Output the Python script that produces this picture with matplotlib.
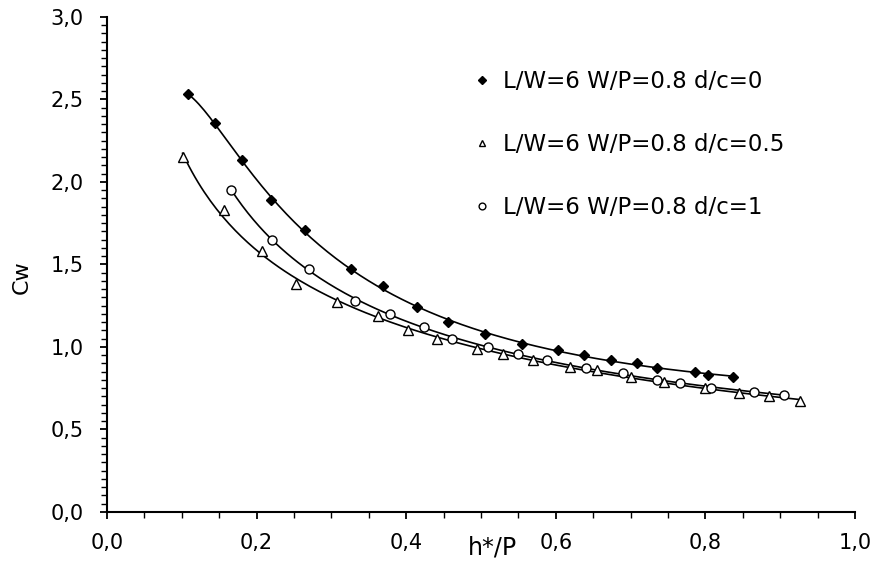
import numpy as np
import matplotlib.pyplot as plt
from matplotlib.ticker import MultipleLocator, FuncFormatter

plt.rcParams['font.family'] = ['DejaVu Sans']

# d/c = 0 (filled diamonds)
x_dc0 = [0.108, 0.144, 0.180, 0.219, 0.265, 0.326, 0.369, 0.414, 0.456, 0.505,
         0.555, 0.603, 0.638, 0.674, 0.709, 0.735, 0.786, 0.803, 0.837]
y_dc0 = [2.53, 2.36, 2.13, 1.89, 1.71, 1.47, 1.37, 1.24, 1.15, 1.08,
         1.02, 0.98, 0.95, 0.92, 0.90, 0.87, 0.85, 0.83, 0.82]

# d/c = 0.5 (open triangles)
x_dc05 = [0.101, 0.156, 0.207, 0.253, 0.307, 0.362, 0.402, 0.441, 0.495, 0.529,
          0.570, 0.619, 0.655, 0.700, 0.745, 0.800, 0.845, 0.885, 0.926]
y_dc05 = [2.15, 1.83, 1.58, 1.38, 1.27, 1.19, 1.10, 1.05, 0.99, 0.96,
          0.92, 0.88, 0.86, 0.82, 0.79, 0.75, 0.72, 0.70, 0.67]

# d/c = 1 (open circles)
x_dc1 = [0.166, 0.221, 0.270, 0.332, 0.378, 0.424, 0.461, 0.510, 0.549, 0.588,
         0.640, 0.690, 0.735, 0.766, 0.808, 0.865, 0.905]
y_dc1 = [1.95, 1.65, 1.47, 1.28, 1.20, 1.12, 1.05, 1.00, 0.96, 0.92,
         0.87, 0.84, 0.80, 0.78, 0.75, 0.73, 0.71]

labels = ['L/W=6 W/P=0.8 d/c=0', 'L/W=6 W/P=0.8 d/c=0.5', 'L/W=6 W/P=0.8 d/c=1']


def trend(x, y):
    # smooth trend line: cubic fit in log-log space
    lx, ly = np.log(x), np.log(y)
    p = np.polyfit(lx, ly, 3)
    xs = np.linspace(min(x), max(x), 200)
    return xs, np.exp(np.polyval(p, np.log(xs)))


fig = plt.figure(figsize=(8.83, 5.77), dpi=100)
ax = fig.add_axes([0.1212, 0.1127, 0.847, 0.858])

series = [(x_dc0, y_dc0, dict(marker='D', ms=5.5, mfc='black', mec='black')),
          (x_dc05, y_dc05, dict(marker='^', ms=6.5, mfc='white', mec='black', mew=1.0)),
          (x_dc1, y_dc1, dict(marker='o', ms=6.5, mfc='white', mec='black', mew=1.0))]

handles = []
for (x, y, st), lab in zip(series, labels):
    xs, ys = trend(x, y)
    ax.plot(xs, ys, color='black', lw=1.2, zorder=2)
    h, = ax.plot(x, y, ls='none', zorder=3, label=lab, **st)
    handles.append(h)

ax.set_xlim(0, 1.0)
ax.set_ylim(0, 3.0)
ax.xaxis.set_major_locator(MultipleLocator(0.2))
ax.xaxis.set_minor_locator(MultipleLocator(0.05))
ax.yaxis.set_major_locator(MultipleLocator(0.5))
ax.yaxis.set_minor_locator(MultipleLocator(0.05))
comma = FuncFormatter(lambda v, pos: f'{v:.1f}'.replace('.', ','))
ax.xaxis.set_major_formatter(comma)
ax.yaxis.set_major_formatter(comma)

for s in ['top', 'right']:
    ax.spines[s].set_visible(False)
for s in ['left', 'bottom']:
    ax.spines[s].set_linewidth(1.5)

ax.tick_params(which='major', direction='out', length=5, width=1.3,
               labelsize=15, pad=12)
ax.tick_params(which='minor', direction='out', length=4, width=1.0)
ax.tick_params(axis='x', which='major', pad=10)

ax.set_xlabel('h*/P', fontsize=17)
ax.xaxis.set_label_coords(0.516, -0.048)
ax.set_ylabel('Cw', fontsize=16)
ax.yaxis.set_label_coords(-0.100, 0.475)

leg = ax.legend(handles=handles, loc='upper left', bbox_to_anchor=(0.462, 0.934),
                frameon=False, fontsize=16.5, handlelength=0.8, handletextpad=0.5,
                labelspacing=1.75, markerscale=0.75)

fig.savefig('out.png', dpi=100)
